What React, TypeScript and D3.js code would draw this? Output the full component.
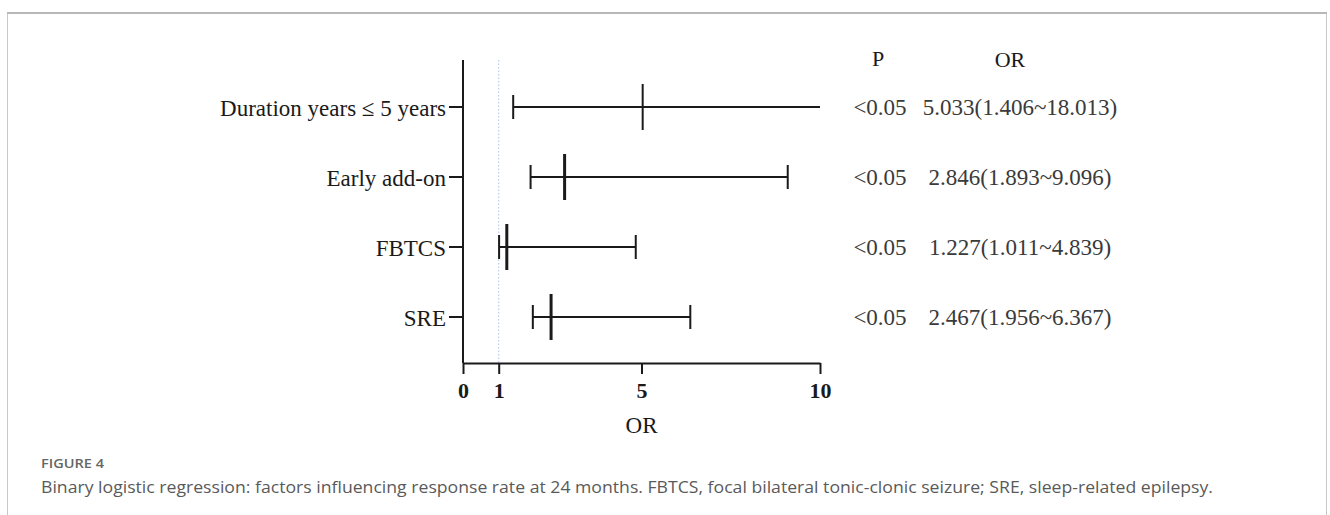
import React, { useEffect, useRef } from "react";
import * as d3 from "d3";

// forest plot rows, top to bottom
const factors = ["Duration years \u2264 5 years", "Early add-on", "FBTCS", "SRE"];
const oddsRatios = [5.033, 2.846, 1.227, 2.467];
const lowerCI = [1.406, 1.893, 1.011, 1.956];
const upperCI = [18.013, 9.096, 4.839, 6.367];
const pLabels = ["<0.05", "<0.05", "<0.05", "<0.05"];
const orLabels = [
  "5.033(1.406~18.013)",
  "2.846(1.893~9.096)",
  "1.227(1.011~4.839)",
  "2.467(1.956~6.367)",
];
const xTicks = [0, 1, 5, 10];

const figureLabel = "FIGURE 4";
const caption =
  "Binary logistic regression: factors influencing response rate at 24 months. FBTCS, focal bilateral tonic-clonic seizure; SRE, sleep-related epilepsy.";

const W = 1330;
const H = 515;

export default function App() {
  const svgRef = useRef<SVGSVGElement>(null);

  useEffect(() => {
    const svg = d3.select(svgRef.current);
    svg.selectAll("*").remove();

    const serif = "'Liberation Serif', 'Times New Roman', serif";
    const ink = "#1a1a1a";

    // frame
    svg.append("rect")
      .attr("x", 7.5).attr("y", 13.5)
      .attr("width", 1319).attr("height", 560)
      .attr("fill", "none")
      .attr("stroke", "#c8c8c8")
      .attr("stroke-width", 1);
    svg.append("line")
      .attr("x1", 7).attr("x2", 1327)
      .attr("y1", 13).attr("y2", 13)
      .attr("stroke", "#b8b8b8")
      .attr("stroke-width", 2);

    const x = d3.scaleLinear().domain([0, 10]).range([463, 820]);
    const y = d3.scaleBand<string>().domain(factors).range([72, 352]);
    const yc = (c: string) => (y(c) as number) + y.bandwidth() / 2;
    const axisTop = 60;
    const axisBottom = 363;

    const g = svg.append("g");

    // reference line at OR = 1
    g.append("line")
      .attr("x1", x(1)).attr("x2", x(1))
      .attr("y1", axisTop).attr("y2", axisBottom)
      .attr("stroke", "#a9c6ee")
      .attr("stroke-width", 1)
      .attr("stroke-dasharray", "1.5,2");

    // x axis
    const xAxis = g.append("g")
      .attr("transform", `translate(0,${axisBottom})`)
      .call(d3.axisBottom(x).tickValues(xTicks).tickSize(11).tickSizeOuter(0).tickFormat(d3.format("d")));
    xAxis.select(".domain").attr("stroke", ink).attr("stroke-width", 2);
    xAxis.selectAll(".tick line").attr("stroke", ink).attr("stroke-width", 2);
    xAxis.selectAll(".tick text")
      .attr("y", 19)
      .attr("dy", "0.71em")
      .attr("fill", ink)
      .style("font-family", serif)
      .style("font-size", "22px")
      .style("font-weight", "bold");

    // y axis
    const yAxis = g.append("g")
      .attr("transform", `translate(${x(0)},0)`)
      .call(d3.axisLeft(y).tickSize(14).tickSizeOuter(0).tickPadding(3));
    yAxis.select(".domain")
      .attr("d", `M0,${axisTop}V${axisBottom}`)
      .attr("stroke", ink).attr("stroke-width", 2);
    yAxis.selectAll(".tick line").attr("stroke", ink).attr("stroke-width", 2);
    yAxis.selectAll(".tick text")
      .attr("fill", ink)
      .attr("dy", "0.38em")
      .style("font-family", serif)
      .style("font-size", "23px");

    g.append("text")
      .attr("x", (x(0) + x(10)) / 2)
      .attr("y", 433)
      .attr("text-anchor", "middle")
      .attr("fill", ink)
      .style("font-family", serif)
      .style("font-size", "23px")
      .text("OR");

    // error bars
    const rows = factors.map((f, i) => ({
      f, or: oddsRatios[i], lo: lowerCI[i], hi: upperCI[i], i,
    }));
    const xMax = x.domain()[1];

    const bars = g.selectAll(".bar").data(rows).enter().append("g").attr("class", "bar");
    bars.append("line")
      .attr("x1", d => x(d.lo))
      .attr("x2", d => x(Math.min(d.hi, xMax)))
      .attr("y1", d => yc(d.f)).attr("y2", d => yc(d.f))
      .attr("stroke", ink).attr("stroke-width", 2);
    bars.append("line")
      .attr("x1", d => x(d.lo)).attr("x2", d => x(d.lo))
      .attr("y1", d => yc(d.f) - 12).attr("y2", d => yc(d.f) + 12)
      .attr("stroke", ink).attr("stroke-width", 2);
    bars.filter(d => d.hi <= xMax).append("line")
      .attr("x1", d => x(d.hi)).attr("x2", d => x(d.hi))
      .attr("y1", d => yc(d.f) - 12).attr("y2", d => yc(d.f) + 12)
      .attr("stroke", ink).attr("stroke-width", 2);
    bars.append("line")
      .attr("x1", d => x(d.or)).attr("x2", d => x(d.or))
      .attr("y1", d => yc(d.f) - 23).attr("y2", d => yc(d.f) + 23)
      .attr("stroke", ink).attr("stroke-width", d => (d.i === 0 ? 2 : 3));

    // table on the right
    const pX = 880;
    const orX = 1020;
    g.append("text")
      .attr("x", 878).attr("y", 66)
      .attr("text-anchor", "middle")
      .attr("fill", ink)
      .style("font-family", serif).style("font-size", "22px")
      .text("P");
    g.append("text")
      .attr("x", 1010).attr("y", 67)
      .attr("text-anchor", "middle")
      .attr("fill", ink)
      .style("font-family", serif).style("font-size", "22px")
      .text("OR");

    g.selectAll(".pval").data(factors).enter().append("text")
      .attr("class", "pval")
      .attr("x", pX).attr("y", d => yc(d))
      .attr("dy", "0.36em")
      .attr("text-anchor", "middle")
      .attr("fill", "#3a3a3a")
      .style("font-family", serif).style("font-size", "23px")
      .text((d, i) => pLabels[i]);

    g.selectAll(".orval").data(factors).enter().append("text")
      .attr("class", "orval")
      .attr("x", orX).attr("y", d => yc(d))
      .attr("dy", "0.36em")
      .attr("text-anchor", "middle")
      .attr("fill", "#3a3a3a")
      .style("font-family", serif).style("font-size", "23px")
      .text((d, i) => orLabels[i]);

    // caption
    const sans = "'Open Sans', 'Noto Sans', sans-serif";
    svg.append("text")
      .attr("x", 41).attr("y", 468)
      .attr("fill", "#666")
      .style("font-family", sans).style("font-size", "12.5px")
      .style("font-weight", "600")
      .attr("textLength", 63).attr("lengthAdjust", "spacingAndGlyphs")
      .text(figureLabel);
    svg.append("text")
      .attr("x", 41).attr("y", 493)
      .attr("fill", "#5a5a5a")
      .style("font-family", sans).style("font-size", "17px")
      .attr("textLength", 1172).attr("lengthAdjust", "spacingAndGlyphs")
      .text(caption);
  }, []);

  return (
    <svg
      ref={svgRef}
      width={W}
      height={H}
      style={{ position: "absolute", left: 0, top: 0, background: "#fff" }}
    />
  );
}
